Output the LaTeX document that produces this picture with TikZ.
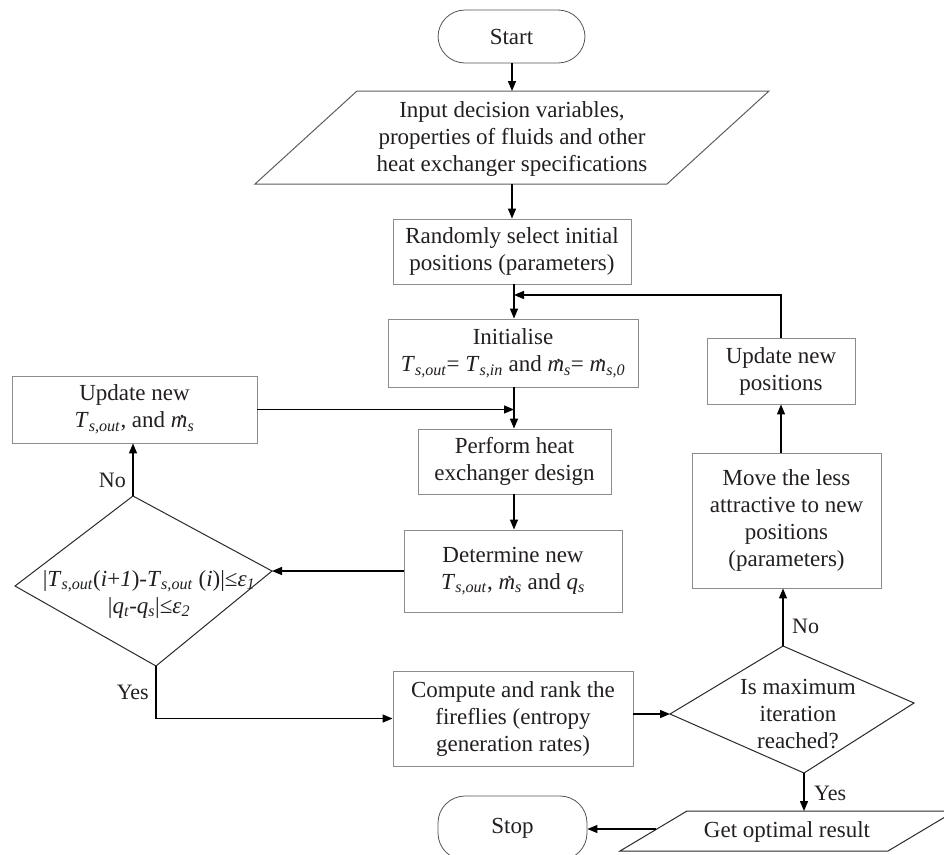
\documentclass[tikz,border=0pt]{standalone}
\usepackage{fontspec}
\setmainfont{Liberation Serif}
\usetikzlibrary{arrows.meta}
\definecolor{boxgray}{HTML}{8C8C8C}
\definecolor{txt}{HTML}{231F20}
\definecolor{shpc}{HTML}{2A2A2A}
\newcommand\sbi[1]{\textsubscript{\textit{#1}}}
\newcommand\mdt{{\itshape\ooalign{m\cr\hidewidth\kern0.12em\raisebox{-0.12em}{˙}\hidewidth\cr}}}
\newcommand\Tso{\textit{T}\sbi{s,out}}
\begin{document}
\begin{tikzpicture}[x=1pt,y=-1pt,
  every node/.style={font=\fontsize{23}{27}\selectfont, text=txt, align=center, inner sep=0pt},
  gbox/.style={draw=boxgray, line width=0.9pt, rectangle},
  term/.style={draw=shpc!80, line width=0.8pt, rounded corners=27pt},
  shp/.style={draw=shpc, line width=1pt, line join=miter},
  flow/.style={draw=black, line width=1.3pt, -{Triangle[length=10pt,width=8pt]}},
  pline/.style={draw=black, line width=1.3pt},
  lbl/.style={font=\fontsize{22}{26}\selectfont}
]
\clip (0,0) rectangle (944,854);
\fill[white] (0,0) rectangle (944,854);

% Start
\node[term, minimum width=147, minimum height=53] (start) at (511.5,36.5) {Start};

% Input parallelogram
\coordinate (inTL) at (357,91);
\coordinate (inTR) at (769,91);
\coordinate (inBR) at (667,184);
\coordinate (inBL) at (255,184);
\coordinate (inTop) at (512,91);
\coordinate (inBot) at (512,184);
\draw[shp, draw=shpc!75] (inTL) -- (inTR) -- (inBR) -- (inBL) -- cycle;
\node (input) at (512,139) {Input decision variables,\\properties of fluids and other\\heat exchanger specifications};

% Randomly
\node[gbox, minimum width=238, minimum height=65] (rand) at (512,251.5) {Randomly select initial\\positions (parameters)};

% Initialise
\node[gbox, minimum width=250, minimum height=68] (init) at (513,353) {Initialise\\\Tso= \textit{T}\sbi{s,in} and \mdt\sbi{s}= \mdt\sbi{s,0}};

% Update new T
\node[gbox, minimum width=245, minimum height=67] (updT) at (134.5,409.5) {Update new\\\Tso, and \mdt\sbi{s}};

% Perform
\node[gbox, minimum width=193, minimum height=65] (perf) at (514.5,461.5) {Perform heat\\exchanger design};

% Determine
\node[gbox, minimum width=218, minimum height=82] (det) at (513,571) {Determine new\\\Tso, \mdt\sbi{s} and \textit{q}\sbi{s}};

% Diamond 1
\coordinate (d1T) at (133,496);
\coordinate (d1L) at (15,586);
\coordinate (d1R) at (272,571);
\coordinate (d1B) at (156,666);
\draw[shp] (d1T) -- (d1R) -- (d1B) -- (d1L) -- cycle;
\node (cond) at (149,594) {|\Tso(\textit{i}+\textit{1})-\Tso{} (\textit{i})|≤\textit{ε}\sbi{1}\\|\textit{q}\sbi{t}-\textit{q}\sbi{s}|≤\textit{ε}\sbi{2}};

% Compute
\node[gbox, minimum width=240, minimum height=95] (comp) at (513,718.5) {Compute and rank the\\fireflies (entropy\\generation rates)};

% Diamond 2
\coordinate (d2T) at (783,646);
\coordinate (d2L) at (670,714);
\coordinate (d2R) at (914,703);
\coordinate (d2B) at (804,773);
\draw[shp] (d2T) -- (d2R) -- (d2B) -- (d2L) -- cycle;
\node (maxit) at (798,714) {Is maximum\\iteration\\reached?};

% Move
\node[gbox, minimum width=189, minimum height=135] (move) at (786.5,520.5) {Move the less\\attractive to new\\positions\\(parameters)};

% Update new positions
\node[gbox, minimum width=148, minimum height=66] (updP) at (781,371) {Update new\\positions};

% Get optimal result
\coordinate (goTL) at (687,811);
\coordinate (goTR) at (955,811);
\coordinate (goBR) at (888,851);
\coordinate (goBL) at (620,851);
\coordinate (goTop) at (804,811);
\coordinate (goL) at (656,829);
\draw[shp] (goTL) -- (goTR) -- (goBR) -- (goBL) -- cycle;
\node (gor) at (787,832) {Get optimal result};

% Stop
\node[term, minimum width=149, minimum height=64] (stop) at (512.5,828) {Stop};

% Connectors
\coordinate (loopj) at (514,295);
\draw[flow] (start.south -| inTop) -- (inTop);
\draw[flow] (inBot) -- (inBot |- rand.north);
\draw[flow] (loopj |- rand.south) -- (loopj |- init.north);
\draw[flow] (updP.north) |- (loopj);
\draw[flow] (loopj |- init.south) -- (loopj |- perf.north);
\draw[flow] (updT.east) -- (updT.east -| loopj);
\draw[flow] (loopj |- perf.south) -- (loopj |- det.north);
\draw[flow] (det.west |- d1R) -- (d1R);
\draw[flow] (d1T) -- (d1T |- updT.south);
\draw[flow] (d1B) |- (comp.west);
\draw[flow] (comp.east |- d2L) -- (d2L);
\draw[flow] (d2T) -- (d2T |- move.south);
\draw[flow] (updP.south |- move.north) -- (updP.south);
\draw[flow] (d2B) -- (goTop);
\draw[flow] (goL) -- (goL -| stop.east);

% Labels
\node[lbl, anchor=east] (noA) at (126,480) {No};
\node[lbl, anchor=east] (yesA) at (149,692) {Yes};
\node[lbl, anchor=west] (noB) at (792,626) {No};
\node[lbl, anchor=west] (yesB) at (814,793) {Yes};
\end{tikzpicture}
\end{document}
